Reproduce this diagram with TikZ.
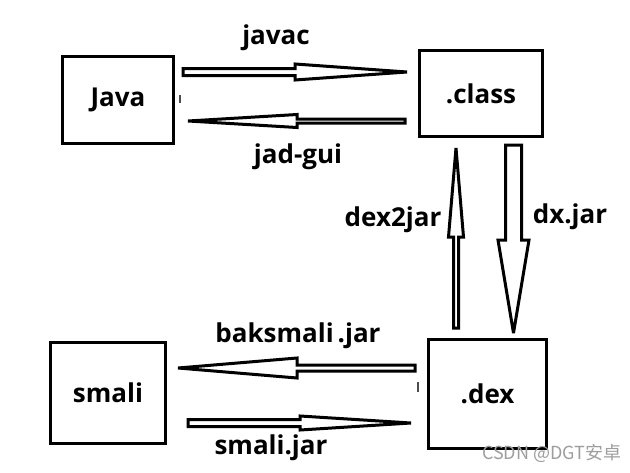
\documentclass[tikz,border=0pt]{standalone}
\usepackage{fontspec}
\setmainfont{Open Sans}
\newfontfamily\wmfont{Noto Sans CJK SC}
\usetikzlibrary{calc}
\tikzset{
  x=1pt, y=-1pt,
  box/.style={draw=black, line width=3pt, fill=white, inner sep=0pt,
    font=\fontsize{26}{30}\selectfont\bfseries},
  lbl/.style={inner sep=0pt, font=\fontsize{26}{30}\selectfont\bfseries},
  barrow/.style={draw=black, line width=3pt, fill=white, line join=miter, miter limit=3},
  tick/.style={draw=black!70, line width=1.2pt},
}
% #1 start, #2 tip, #3 shaft half-width, #4 head half-width, #5 head length
\newcommand\blockarr[5]{%
  \coordinate (hb) at ($(#2)!#5!(#1)$);
  \draw[barrow] ($(#1)!#3!90:(#2)$) -- ($(hb)!#3!90:(#2)$) -- ($(hb)!#4!90:(#2)$)
    -- (#2) -- ($(hb)!#4!-90:(#2)$) -- ($(hb)!#3!-90:(#2)$) -- ($(#1)!#3!-90:(#2)$) -- cycle;}
\begin{document}
\begin{tikzpicture}
\useasboundingbox[fill=white] (0,0) rectangle (630,472);
% boxes
\node[box, minimum width=111pt, minimum height=87pt] (java) at (118,100) {Java};
\node[box, minimum width=123pt, minimum height=86pt] (class) at (481,93.5) {.class};
\node[box, minimum width=118pt, minimum height=109pt] (dex) at (487.5,394) {.dex};
\node[box, minimum width=115pt, minimum height=101pt] (smali) at (108,393) {smali};
% arrow end points
\coordinate (javacS) at (183,72);   \coordinate (javacT) at (407,72);
\coordinate (jadS) at (405,121);    \coordinate (jadT) at (188,121);
\coordinate (d2jS) at (456,328);    \coordinate (d2jT) at (456,148);
\coordinate (dxS) at (513.5,145);   \coordinate (dxT) at (513.5,333);
\coordinate (bakS) at (415,368);    \coordinate (bakT) at (178,368);
\coordinate (smjS) at (188,423);    \coordinate (smjT) at (411,423);
\blockarr{javacS}{javacT}{3.5pt}{8pt}{112pt}
\blockarr{jadS}{jadT}{2pt}{6.5pt}{109pt}
\blockarr{d2jS}{d2jT}{2.5pt}{7.5pt}{89pt}
\blockarr{dxS}{dxT}{8pt}{15.5pt}{93pt}
\blockarr{bakS}{bakT}{3pt}{10pt}{119pt}
\blockarr{smjS}{smjT}{3.5pt}{7pt}{111pt}
% labels
\node[lbl] (lj) at (276,38) {javac};
\node[lbl] (lg) at (298,157) {jad-gui};
\node[lbl] (ld) at (393,220) {dex2jar};
\node[lbl] (lx) at (570,217) {dx.jar};
\node[lbl] (lb) at (298,336) {baksmali\hspace{4pt}.jar};
\node[lbl] (ls) at (271,448) {smali.jar};
% small marks
\coordinate (m1a) at (180,95); \coordinate (m1b) at (180,103);
\draw[tick] (m1a) -- (m1b);
\coordinate (m2a) at (418,382); \coordinate (m2b) at (418,392);
\draw[tick] (m2a) -- (m2b);
% watermark
\node[inner sep=0pt, anchor=west, text=black!38, font=\wmfont\fontsize{18}{20}\selectfont] (wm) at (482,453) {CSDN @DGT安卓};
\end{tikzpicture}
\end{document}
